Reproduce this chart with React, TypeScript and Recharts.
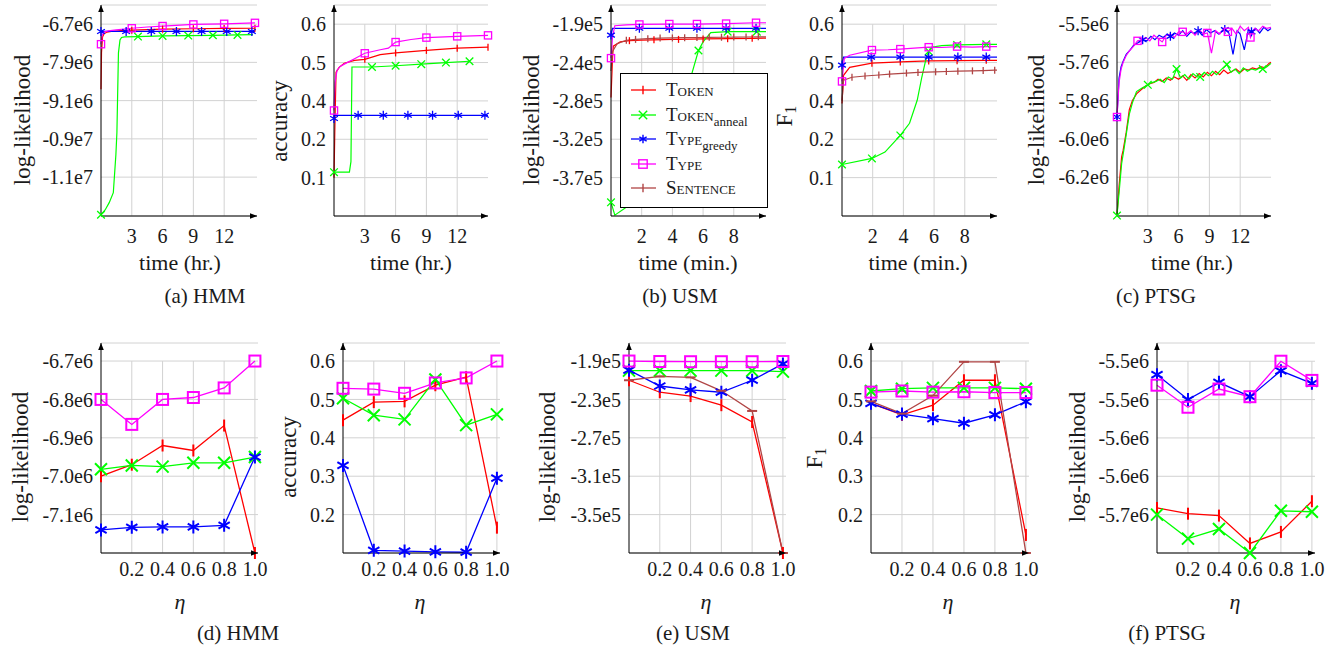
import React from "react";
import { LineChart, Line, XAxis, YAxis, CartesianGrid, ReferenceLine, ReferenceDot } from "recharts";

type Pt = [number, number];

const FONT = '"Liberation Serif", "Times New Roman", serif';
const INK = "#1a1a1a";
const GRID = "#d2d2d2";

// ---- top row: (a) HMM, log-likelihood (x1e6) vs hours
const hmmLlToken: Pt[] = [[0, -8.74], [0.05, -7.6], [0.15, -7.1], [0.3, -7.0], [0.6, -6.95], [1, -6.93], [2, -6.9], [3, -6.89], [4.5, -6.87], [6, -6.86], [9, -6.845], [12, -6.835], [15, -6.83]];
const hmmLlTokenMarks = [3, 6, 9, 12, 15];
const hmmLlAnneal: Pt[] = [[0, -12.68], [0.4, -12.53], [0.8, -12.3], [1.2, -11.99], [1.45, -10.8], [1.55, -10.1], [1.7, -7.6], [1.85, -7.2], [2.0, -7.12], [2.3, -7.1], [3.6, -7.09], [6, -7.07], [8.5, -7.06], [10.9, -7.05], [13.3, -7.04], [14.8, -7.03]];
const hmmLlAnnealMarks = [0, 3.6, 6, 8.5, 10.9, 13.3];
const hmmLlGreedy: Pt[] = [[0, -6.93], [2.45, -6.93], [4.9, -6.93], [7.35, -6.93], [9.8, -6.93], [12.25, -6.93], [14.7, -6.93], [15, -6.93]];
const hmmLlGreedyMarks = [0, 2.45, 4.9, 7.35, 9.8, 12.25, 14.7];
const hmmLlType: Pt[] = [[0, -7.33], [0.1, -7.05], [0.3, -6.95], [0.7, -6.91], [1.5, -6.88], [3, -6.83], [4.5, -6.79], [6, -6.76], [9, -6.71], [12, -6.69], [15, -6.66]];
const hmmLlTypeMarks = [0, 3, 6, 9, 12, 15];

// (a) HMM accuracy vs hours
const hmmAccToken: Pt[] = [[0, 0.12], [0.1, 0.3], [0.2, 0.45], [0.5, 0.465], [1, 0.478], [2, 0.487], [3, 0.49], [4.5, 0.505], [6, 0.51], [9, 0.518], [12, 0.525], [15, 0.528]];
const hmmAccTokenMarks = [3, 6, 9, 12, 15];
const hmmAccAnneal: Pt[] = [[0, 0.137], [1.5, 0.137], [1.65, 0.17], [1.75, 0.466], [3.7, 0.466], [6, 0.47], [8.5, 0.475], [10.9, 0.48], [13.2, 0.484]];
const hmmAccAnnealMarks = [0, 3.7, 6, 8.5, 10.9, 13.2];
const hmmAccGreedy: Pt[] = [[0, 0.305], [0.05, 0.315], [2.35, 0.315], [4.8, 0.315], [7.2, 0.315], [9.6, 0.315], [12.1, 0.315], [14.7, 0.315], [15, 0.315]];
const hmmAccGreedyMarks = [0, 2.35, 4.8, 7.2, 9.6, 12.1, 14.7];
const hmmAccType: Pt[] = [[0, 0.33], [0.1, 0.418], [0.3, 0.456], [0.6, 0.468], [1, 0.475], [2, 0.492], [3, 0.509], [4.5, 0.52], [5.3, 0.525], [6, 0.544], [7.5, 0.552], [9, 0.558], [12, 0.562], [15, 0.565]];
const hmmAccTypeMarks = [0, 3, 6, 9, 12, 15];

// (b) USM log-likelihood (x1e5) vs minutes
const usmLlToken: Pt[] = [[0, -2.76], [0.1, -2.3], [0.15, -2.16], [0.6, -2.11], [1.2, -2.095], [2, -2.088], [2.8, -2.085], [4, -2.08], [4.4, -2.08], [6, -2.075], [7.6, -2.072], [9.2, -2.068], [10.1, -2.065]];
const usmLlTokenMarks = [1.2, 2.8, 4.4, 6, 7.6, 9.2];
const usmLlAnneal: Pt[] = [[0, -3.99], [0.25, -4.14], [0.9, -4.06], [1.9, -3.92], [3, -3.65], [3.8, -3.33], [4.6, -2.9], [5.0, -2.65], [5.3, -2.46], [5.7, -2.21], [6.0, -2.11], [6.5, -2.0], [7.6, -1.99], [9.5, -1.99], [10.1, -1.99]];
const usmLlAnnealMarks = [0, 1.9, 3.8, 5.7, 7.6, 9.5];
const usmLlGreedy: Pt[] = [[0, -2.03], [0.1, -1.95], [1.85, -1.95], [3.8, -1.95], [5.6, -1.95], [7.5, -1.95], [9.45, -1.95], [10.1, -1.95]];
const usmLlGreedyMarks = [0, 1.85, 3.8, 5.6, 7.5, 9.45];
const usmLlType: Pt[] = [[0, -2.3], [0.1, -2.05], [0.25, -1.92], [1, -1.91], [1.85, -1.905], [3.8, -1.9], [5.6, -1.9], [7.5, -1.895], [9.45, -1.885], [10.1, -1.885]];
const usmLlTypeMarks = [0, 1.85, 3.8, 5.6, 7.5, 9.45];
const usmLlSentence: Pt[] = [[0, -2.45], [0.1, -2.22], [0.4, -2.13], [1, -2.09], [1.6, -2.08], [2.4, -2.072], [3.2, -2.065], [4, -2.063], [4.8, -2.06], [5.6, -2.058], [6.4, -2.056], [7.2, -2.055], [8, -2.053], [8.8, -2.052], [9.6, -2.05], [10.1, -2.05]];
const usmLlSentenceMarks = [1, 1.6, 2.4, 3.2, 4, 4.8, 5.6, 6.4, 7.2, 8, 8.8, 9.6];

// (b) USM F1 vs minutes
const usmF1Token: Pt[] = [[0, 0.352], [0.1, 0.44], [0.5, 0.465], [1.95, 0.478], [3.8, 0.482], [5.65, 0.485], [7.5, 0.486], [9.4, 0.487], [10.1, 0.487]];
const usmF1TokenMarks = [1.95, 3.8, 5.65, 7.5, 9.4];
const usmF1Anneal: Pt[] = [[0, 0.161], [1.95, 0.18], [2.8, 0.2], [3.8, 0.252], [4.4, 0.29], [4.9, 0.362], [5.2, 0.434], [5.5, 0.497], [5.65, 0.515], [5.8, 0.528], [6.5, 0.533], [7.5, 0.535], [9.4, 0.537], [10.1, 0.537]];
const usmF1AnnealMarks = [0, 1.95, 3.8, 5.65, 7.5, 9.4];
const usmF1Greedy: Pt[] = [[0, 0.472], [0.1, 0.497], [1.9, 0.497], [3.8, 0.497], [5.65, 0.497], [7.55, 0.497], [9.4, 0.497], [10.1, 0.497]];
const usmF1GreedyMarks = [0, 1.9, 3.8, 5.65, 7.55, 9.4];
const usmF1Type: Pt[] = [[0, 0.421], [0.15, 0.493], [0.5, 0.503], [1.95, 0.519], [3, 0.52], [3.8, 0.522], [4.7, 0.525], [5.65, 0.528], [6.5, 0.527], [7.5, 0.53], [8.5, 0.528], [9.4, 0.53], [10.1, 0.53]];
const usmF1TypeMarks = [0, 1.95, 3.8, 5.65, 7.5, 9.4];
const usmF1Sentence: Pt[] = [[0, 0.36], [0.1, 0.425], [0.65, 0.434], [1.5, 0.438], [2.4, 0.441], [3.1, 0.444], [4.2, 0.447], [4.95, 0.449], [6.1, 0.451], [6.8, 0.452], [7.55, 0.453], [8.5, 0.454], [9.2, 0.455], [9.95, 0.456], [10.1, 0.456]];
const usmF1SentenceMarks = [0.65, 1.5, 2.4, 3.1, 4.2, 4.95, 6.1, 6.8, 7.55, 8.5, 9.2, 9.95];

// (c) PTSG log-likelihood (x1e6) vs hours
const ptsgLlToken: Pt[] = [[0, -6.35], [0.2, -6.22], [0.45, -6.09], [0.6, -6.06], [0.9, -5.98], [1.2, -5.88], [1.5, -5.84], [1.9, -5.81], [2.4, -5.79], [2.8, -5.775], [3.2, -5.765], [3.6, -5.76], [4.0, -5.745], [4.4, -5.755], [4.8, -5.74], [5.2, -5.75], [5.6, -5.735], [6.0, -5.745], [6.4, -5.73], [6.8, -5.75], [7.2, -5.725], [7.6, -5.74], [8.0, -5.72], [8.4, -5.735], [8.8, -5.715], [9.2, -5.73], [9.6, -5.71], [10.0, -5.725], [10.4, -5.705], [10.8, -5.72], [11.2, -5.71], [11.6, -5.7], [12.0, -5.715], [12.4, -5.7], [12.8, -5.705], [13.2, -5.695], [13.6, -5.7], [14.0, -5.69], [14.4, -5.695], [14.8, -5.675], [15.0, -5.67]];
const ptsgLlTokenMarks: number[] = [];
const ptsgLlAnneal: Pt[] = [[0, -6.35], [0.2, -6.25], [0.45, -6.12], [0.7, -6.05], [0.9, -5.99], [1.2, -5.9], [1.5, -5.85], [1.9, -5.8], [2.4, -5.785], [3.0, -5.77], [3.4, -5.76], [3.8, -5.755], [4.2, -5.745], [4.6, -5.76], [5.0, -5.735], [5.4, -5.745], [5.8, -5.7], [6.2, -5.74], [6.6, -5.725], [7.0, -5.745], [7.4, -5.72], [7.8, -5.735], [8.1, -5.735], [8.5, -5.715], [8.9, -5.73], [9.3, -5.71], [9.7, -5.725], [10.1, -5.705], [10.7, -5.68], [11.1, -5.715], [11.5, -5.7], [11.9, -5.72], [12.3, -5.695], [12.7, -5.71], [13.1, -5.7], [13.5, -5.705], [13.9, -5.695], [14.2, -5.7], [14.6, -5.69], [15.0, -5.675]];
const ptsgLlAnnealMarks = [0, 3.0, 5.8, 8.1, 10.7, 14.2];
const ptsgLlGreedy: Pt[] = [[0, -5.913], [0.2, -5.74], [0.4, -5.69], [0.6, -5.665], [0.9, -5.635], [1.2, -5.62], [1.6, -5.595], [2.0, -5.585], [2.5, -5.57], [2.9, -5.575], [3.3, -5.555], [3.7, -5.57], [4.1, -5.55], [4.5, -5.56], [4.9, -5.545], [5.2, -5.555], [5.6, -5.54], [6.0, -5.55], [6.4, -5.53], [6.8, -5.555], [7.2, -5.535], [7.6, -5.545], [7.9, -5.53], [8.3, -5.55], [8.7, -5.525], [9.1, -5.54], [9.5, -5.53], [9.9, -5.545], [10.5, -5.525], [10.9, -5.54], [11.3, -5.635], [11.7, -5.53], [12.0, -5.545], [12.4, -5.615], [12.8, -5.525], [13.1, -5.535], [13.5, -5.52], [13.9, -5.54], [14.3, -5.515], [14.7, -5.53], [15.0, -5.52]];
const ptsgLlGreedyMarks = [0, 2.5, 5.2, 7.9, 10.5, 13.1];
const ptsgLlType: Pt[] = [[0, -5.913], [0.2, -5.76], [0.4, -5.7], [0.6, -5.67], [0.9, -5.64], [1.2, -5.62], [1.6, -5.6], [2.0, -5.575], [2.4, -5.57], [2.8, -5.56], [3.2, -5.575], [3.6, -5.55], [4.0, -5.565], [4.4, -5.58], [4.8, -5.55], [5.2, -5.545], [5.6, -5.56], [6.0, -5.535], [6.4, -5.535], [6.8, -5.545], [7.2, -5.53], [7.6, -5.55], [8.0, -5.525], [8.4, -5.545], [8.8, -5.54], [9.2, -5.63], [9.6, -5.53], [10.0, -5.545], [10.4, -5.52], [10.8, -5.535], [11.2, -5.52], [11.6, -5.545], [12.0, -5.51], [12.4, -5.53], [12.8, -5.515], [13.0, -5.56], [13.4, -5.52], [13.8, -5.53], [14.2, -5.51], [14.6, -5.52], [15.0, -5.515]];
const ptsgLlTypeMarks = [0, 2.0, 4.4, 6.4, 8.8, 10.8, 13.0];

// ---- bottom row: values at each eta
const ETA = [0, 0.2, 0.4, 0.6, 0.8, 1.0];
const dLlToken = [-7.0, -6.97, -6.92, -6.933, -6.868, -7.2];
const dLlAnneal = [-6.982, -6.972, -6.975, -6.965, -6.965, -6.95];
const dLlGreedy = [-7.14, -7.133, -7.132, -7.132, -7.128, -6.95];
const dLlType = [-6.8, -6.865, -6.8, -6.795, -6.77, -6.7];

const dAccToken = [0.446, 0.493, 0.495, 0.537, 0.558, 0.166];
const dAccAnneal = [0.503, 0.459, 0.448, 0.552, 0.433, 0.461];
const dAccGreedy = [0.328, 0.107, 0.105, 0.103, 0.102, 0.295];
const dAccType = [0.529, 0.527, 0.516, 0.543, 0.556, 0.6];

const eLlToken = [-2.1, -2.225, -2.265, -2.36, -2.535, -3.9];
const eLlAnneal = [-2.0, -2.0, -2.0, -2.0, -2.0, -2.01];
const eLlGreedy = [-1.995, -2.16, -2.2, -2.225, -2.1, -1.93];
const eLlType = [-1.9, -1.905, -1.907, -1.907, -1.907, -1.905];
const eLlSentence = [-2.1, -2.06, -2.07, -2.21, -2.42, -3.9];

const eF1Token = [0.49, 0.46, 0.485, 0.55, 0.55, 0.147];
const eF1Anneal = [0.522, 0.528, 0.53, 0.53, 0.53, 0.528];
const eF1Greedy = [0.49, 0.462, 0.45, 0.438, 0.46, 0.494];
const eF1Type = [0.519, 0.522, 0.519, 0.52, 0.518, 0.518];
const eF1Sentence = [0.495, 0.463, 0.51, 0.598, 0.598, 0.1];

const fLlToken = [-5.653, -5.659, -5.661, -5.69, -5.678, -5.646];
const fLlAnneal = [-5.66, -5.685, -5.675, -5.7, -5.656, -5.657];
const fLlGreedy = [-5.514, -5.54, -5.522, -5.537, -5.51, -5.523];
const fLlType = [-5.525, -5.548, -5.529, -5.537, -5.5, -5.52];

// tick labels as printed
const hmmLlTicks = [-11.5, -10.3, -9.1, -7.9, -6.7];
const hmmLlLabels = ["-1.1e7", "-0.9e7", "-9.1e6", "-7.9e6", "-6.7e6"];
const accTopTicks = [0.12, 0.24, 0.36, 0.48, 0.6];
const accTopLabels = ["0.1", "0.2", "0.4", "0.5", "0.6"];
const usmLlTicks = [-3.7, -3.25, -2.8, -2.35, -1.9];
const usmLlLabels = ["-3.7e5", "-3.2e5", "-2.8e5", "-2.4e5", "-1.9e5"];
const ptsgLlTicks = [-6.18, -6.01, -5.84, -5.67, -5.5];
const ptsgLlLabels = ["-6.2e6", "-6.0e6", "-5.8e6", "-5.7e6", "-5.5e6"];
const dLlTicks = [-7.1, -7.0, -6.9, -6.8, -6.7];
const dLlLabels = ["-7.1e6", "-7.0e6", "-6.9e6", "-6.8e6", "-6.7e6"];
const accBotTicks = [0.2, 0.3, 0.4, 0.5, 0.6];
const accBotLabels = ["0.2", "0.3", "0.4", "0.5", "0.6"];
const eLlTicks = [-3.5, -3.1, -2.7, -2.3, -1.9];
const eLlLabels = ["-3.5e5", "-3.1e5", "-2.7e5", "-2.3e5", "-1.9e5"];
const fLlTicks = [-5.66, -5.62, -5.58, -5.54, -5.5];
const fLlLabels = ["-5.7e6", "-5.6e6", "-5.6e6", "-5.5e6", "-5.5e6"];
const hourTicks = [3, 6, 9, 12];
const minTicks = [2, 4, 6, 8];
const etaTicks = [0.2, 0.4, 0.6, 0.8, 1.0];

type MarkKind = "bar" | "hbar" | "x" | "star" | "square";
const STYLE: Record<string, { color: string; mark: MarkKind }> = {
  token: { color: "#ff0000", mark: "bar" },
  anneal: { color: "#00ff00", mark: "x" },
  greedy: { color: "#0000ff", mark: "star" },
  type: { color: "#ff00ff", mark: "square" },
  sentence: { color: "#b04545", mark: "bar" },
};

interface Series {
  key: string;
  pts: Pt[];
  marks?: number[];
  mark?: MarkKind;
}

function Mark({ kind, cx, cy, s, color, sw }: { kind: MarkKind; cx: number; cy: number; s: number; color: string; sw: number }) {
  const st = { stroke: color, strokeWidth: sw, fill: "none" };
  if (kind === "bar") return <line x1={cx} y1={cy - s} x2={cx} y2={cy + s} {...st} />;
  if (kind === "hbar") return <line x1={cx - s} y1={cy} x2={cx + s} y2={cy} {...st} />;
  if (kind === "x") return <path d={`M${cx - s},${cy - s}L${cx + s},${cy + s}M${cx - s},${cy + s}L${cx + s},${cy - s}`} {...st} />;
  if (kind === "star") {
    const a = s * Math.cos(Math.PI / 6);
    const b = s * 0.5;
    return <path d={`M${cx},${cy - s}L${cx},${cy + s}M${cx - a},${cy - b}L${cx + a},${cy + b}M${cx - a},${cy + b}L${cx + a},${cy - b}`} {...st} />;
  }
  return <rect x={cx - s} y={cy - s} width={2 * s} height={2 * s} {...st} />;
}

const etaPts = (vals: number[]): Pt[] => ETA.map((e, i) => [e, vals[i]]);

interface PanelProps {
  x0: number;
  x1: number;
  yTop: number;
  yBot: number;
  tm: number;
  xDomain: [number, number];
  xTicks: number[];
  yDomain: [number, number];
  yTicks: number[];
  yLabels: string[];
  series: Series[];
  big?: boolean;
}

function Panel(p: PanelProps) {
  const YW = 100;
  const MT = 10;
  const MR = 14;
  const XH = 40;
  const width = YW + (p.x1 - p.x0) + MR;
  const height = MT + (p.yBot - p.yTop) + XH;
  const topTick = Math.max(...p.yTicks);
  const ms = p.big ? { bar: 6, hbar: 5, x: 6, star: 6.5, square: 5.5 } : { bar: 3.5, hbar: 3.5, x: 3.8, star: 4.5, square: 3.6 };
  const msw = p.big ? 2 : 1.3;
  const tick = { fontSize: 20, fill: INK, fontFamily: FONT };

  return (
    <div style={{ position: "absolute", left: p.x0 - YW, top: p.yTop - MT }}>
      <LineChart width={width} height={height} margin={{ top: MT, right: MR, bottom: 0, left: 0 }}>
        <CartesianGrid vertical={false} stroke={GRID} strokeWidth={1} />
        {p.xTicks.map((t) => (
          <ReferenceLine
            key={t}
            segment={[{ x: t, y: p.yDomain[0] }, { x: t, y: topTick }]}
            stroke={GRID}
            strokeWidth={1}
          />
        ))}
        <XAxis
          type="number"
          dataKey="x"
          domain={p.xDomain}
          ticks={p.xTicks}
          interval={0}
          tickLine={false}
          tickMargin={p.tm}
          height={XH}
          axisLine={{ stroke: "#000", strokeWidth: 1 }}
          tick={tick}
          tickFormatter={(v: number) => (p.big ? v.toFixed(1) : String(v))}
        />
        <YAxis
          type="number"
          domain={p.yDomain}
          ticks={p.yTicks}
          interval={0}
          width={YW}
          tickLine={false}
          axisLine={{ stroke: "#000", strokeWidth: 1 }}
          tick={tick}
          tickFormatter={(v: number) => p.yLabels[p.yTicks.indexOf(v)] ?? ""}
        />
        {p.series.map((s) => {
          const st = STYLE[s.key];
          const kind = s.mark ?? st.mark;
          return (
            <Line
              key={s.key}
              data={s.pts.map(([x, y]) => ({ x, y }))}
              dataKey="y"
              type="linear"
              stroke={st.color}
              strokeWidth={p.big ? 1.3 : 1.2}
              isAnimationActive={false}
              activeDot={false}
              dot={(d: any) => {
                const show = !s.marks || s.marks.includes(d.payload.x);
                if (!show || d.cx == null) return <g key={d.index} />;
                return (
                  <g key={d.index}>
                    <Mark kind={kind} cx={d.cx} cy={d.cy} s={ms[kind]} color={st.color} sw={msw} />
                  </g>
                );
              }}
            />
          );
        })}
        <ReferenceDot
          x={p.xDomain[0]}
          y={p.yDomain[1]}
          r={1}
          shape={(d: any) => <path d={`M${d.cx - 2.8},${d.cy + 7}L${d.cx},${d.cy}L${d.cx + 2.8},${d.cy + 7}Z`} fill="#000" />}
        />
        <ReferenceDot
          x={p.xDomain[1]}
          y={p.yDomain[0]}
          r={1}
          shape={(d: any) => <path d={`M${d.cx - 7},${d.cy - 2.8}L${d.cx},${d.cy}L${d.cx - 7},${d.cy + 2.8}Z`} fill="#000" />}
        />
      </LineChart>
    </div>
  );
}

function Txt({ x, y, children, size = 20, rotate = false, italic = false }: { x: number; y: number; children: React.ReactNode; size?: number; rotate?: boolean; italic?: boolean }) {
  return (
    <div
      style={{
        position: "absolute",
        left: x,
        top: y,
        transform: `translate(-50%, -50%)${rotate ? " rotate(-90deg)" : ""}`,
        whiteSpace: "nowrap",
        fontFamily: FONT,
        fontSize: size,
        fontStyle: italic ? "italic" : "normal",
        color: INK,
        lineHeight: 1,
      }}
    >
      {children}
    </div>
  );
}

const F1 = (
  <span>
    F<sub style={{ fontSize: "0.7em", verticalAlign: "-0.3em" }}>1</sub>
  </span>
);

const LEGEND: { key: string; main: string; sub?: string }[] = [
  { key: "token", main: "Token" },
  { key: "anneal", main: "Token", sub: "anneal" },
  { key: "greedy", main: "Type", sub: "greedy" },
  { key: "type", main: "Type" },
  { key: "sentence", main: "Sentence" },
];

function LegendBox() {
  return (
    <div
      style={{
        position: "absolute",
        left: 620,
        top: 73,
        width: 146,
        height: 133,
        border: "1px solid #000",
        background: "#fff",
        fontFamily: FONT,
      }}
    >
      {LEGEND.map((l, i) => {
        const st = STYLE[l.key];
        return (
          <div key={l.key} style={{ position: "absolute", left: 0, top: 4 + i * 24.6, height: 24, width: 146 }}>
            <svg width={40} height={24} style={{ position: "absolute", left: 0, top: 0 }}>
              <line x1={10} y1={12} x2={35} y2={12} stroke={st.color} strokeWidth={1.3} />
              <Mark kind={st.mark} cx={22} cy={12} s={4.2} color={st.color} sw={1.4} />
            </svg>
            <span
              style={{
                position: "absolute",
                left: 45,
                top: 1,
                fontSize: 19,
                fontVariant: "small-caps",
                color: INK,
                whiteSpace: "nowrap",
              }}
            >
              {l.main}
              {l.sub && <sub style={{ fontSize: 13, fontVariant: "normal" }}>{l.sub}</sub>}
            </span>
          </div>
        );
      })}
    </div>
  );
}

const TOP = { yTop: 5, yBot: 216, tm: 7 };
const BOT = { yTop: 343, yBot: 553, tm: 3, big: true };

export default function App() {
  return (
    <div style={{ position: "absolute", left: 0, top: 0, width: 1340, height: 646, background: "#fff", overflow: "hidden" }}>
      <Panel {...TOP} x0={101} x1={257} xDomain={[0, 15.2]} xTicks={hourTicks} yDomain={[-12.72, -6.1]} yTicks={hmmLlTicks} yLabels={hmmLlLabels}
        series={[
          { key: "token", pts: hmmLlToken, marks: hmmLlTokenMarks },
          { key: "anneal", pts: hmmLlAnneal, marks: hmmLlAnnealMarks },
          { key: "greedy", pts: hmmLlGreedy, marks: hmmLlGreedyMarks },
          { key: "type", pts: hmmLlType, marks: hmmLlTypeMarks },
        ]} />
      <Panel {...TOP} x0={334} x1={488} xDomain={[0, 15]} xTicks={hourTicks} yDomain={[0, 0.66]} yTicks={accTopTicks} yLabels={accTopLabels}
        series={[
          { key: "token", pts: hmmAccToken, marks: hmmAccTokenMarks },
          { key: "anneal", pts: hmmAccAnneal, marks: hmmAccAnnealMarks },
          { key: "greedy", pts: hmmAccGreedy, marks: hmmAccGreedyMarks },
          { key: "type", pts: hmmAccType, marks: hmmAccTypeMarks },
        ]} />
      <Panel {...TOP} x0={611} x1={766} xDomain={[0, 10.1]} xTicks={minTicks} yDomain={[-4.15, -1.677]} yTicks={usmLlTicks} yLabels={usmLlLabels}
        series={[
          { key: "token", pts: usmLlToken, marks: usmLlTokenMarks },
          { key: "anneal", pts: usmLlAnneal, marks: usmLlAnnealMarks },
          { key: "greedy", pts: usmLlGreedy, marks: usmLlGreedyMarks },
          { key: "type", pts: usmLlType, marks: usmLlTypeMarks },
          { key: "sentence", pts: usmLlSentence, marks: usmLlSentenceMarks },
        ]} />
      <Panel {...TOP} x0={842} x1={997} xDomain={[0, 10.1]} xTicks={minTicks} yDomain={[0, 0.66]} yTicks={accTopTicks} yLabels={accTopLabels}
        series={[
          { key: "token", pts: usmF1Token, marks: usmF1TokenMarks },
          { key: "anneal", pts: usmF1Anneal, marks: usmF1AnnealMarks },
          { key: "greedy", pts: usmF1Greedy, marks: usmF1GreedyMarks },
          { key: "type", pts: usmF1Type, marks: usmF1TypeMarks },
          { key: "sentence", pts: usmF1Sentence, marks: usmF1SentenceMarks },
        ]} />
      <Panel {...TOP} x0={1117} x1={1271} xDomain={[0, 15]} xTicks={hourTicks} yDomain={[-6.352, -5.416]} yTicks={ptsgLlTicks} yLabels={ptsgLlLabels}
        series={[
          { key: "token", pts: ptsgLlToken, marks: ptsgLlTokenMarks },
          { key: "anneal", pts: ptsgLlAnneal, marks: ptsgLlAnnealMarks },
          { key: "greedy", pts: ptsgLlGreedy, marks: ptsgLlGreedyMarks },
          { key: "type", pts: ptsgLlType, marks: ptsgLlTypeMarks },
        ]} />

      <Panel {...BOT} x0={101} x1={258} xDomain={[0, 1.02]} xTicks={etaTicks} yDomain={[-7.2, -6.653]} yTicks={dLlTicks} yLabels={dLlLabels}
        series={[
          { key: "token", pts: etaPts(dLlToken) },
          { key: "anneal", pts: etaPts(dLlAnneal) },
          { key: "greedy", pts: etaPts(dLlGreedy) },
          { key: "type", pts: etaPts(dLlType) },
        ]} />
      <Panel {...BOT} x0={343} x1={500} xDomain={[0, 1.02]} xTicks={etaTicks} yDomain={[0.1, 0.647]} yTicks={accBotTicks} yLabels={accBotLabels}
        series={[
          { key: "token", pts: etaPts(dAccToken) },
          { key: "anneal", pts: etaPts(dAccAnneal) },
          { key: "greedy", pts: etaPts(dAccGreedy) },
          { key: "type", pts: etaPts(dAccType) },
        ]} />
      <Panel {...BOT} x0={629} x1={786} xDomain={[0, 1.02]} xTicks={etaTicks} yDomain={[-3.9, -1.712]} yTicks={eLlTicks} yLabels={eLlLabels}
        series={[
          { key: "token", pts: etaPts(eLlToken) },
          { key: "anneal", pts: etaPts(eLlAnneal) },
          { key: "greedy", pts: etaPts(eLlGreedy) },
          { key: "type", pts: etaPts(eLlType) },
          { key: "sentence", pts: etaPts(eLlSentence), mark: "hbar" },
        ]} />
      <Panel {...BOT} x0={871} x1={1029} xDomain={[0, 1.02]} xTicks={etaTicks} yDomain={[0.1, 0.647]} yTicks={accBotTicks} yLabels={accBotLabels}
        series={[
          { key: "token", pts: etaPts(eF1Token) },
          { key: "anneal", pts: etaPts(eF1Anneal) },
          { key: "greedy", pts: etaPts(eF1Greedy) },
          { key: "type", pts: etaPts(eF1Type) },
          { key: "sentence", pts: etaPts(eF1Sentence), mark: "hbar" },
        ]} />
      <Panel {...BOT} x0={1157} x1={1315} xDomain={[0, 1.02]} xTicks={etaTicks} yDomain={[-5.7, -5.481]} yTicks={fLlTicks} yLabels={fLlLabels}
        series={[
          { key: "token", pts: etaPts(fLlToken) },
          { key: "anneal", pts: etaPts(fLlAnneal) },
          { key: "greedy", pts: etaPts(fLlGreedy) },
          { key: "type", pts: etaPts(fLlType) },
        ]} />

      {/* axis titles, top row */}
      <Txt x={22} y={120} size={23} rotate>log-likelihood</Txt>
      <Txt x={279} y={121} size={23} rotate>accuracy</Txt>
      <Txt x={531} y={120} size={23} rotate>log-likelihood</Txt>
      <Txt x={786} y={116} size={23} rotate>{F1}</Txt>
      <Txt x={1036} y={120} size={23} rotate>log-likelihood</Txt>
      <Txt x={180} y={263} size={22}>time (hr.)</Txt>
      <Txt x={411} y={263} size={22}>time (hr.)</Txt>
      <Txt x={688} y={263} size={22}>time (min.)</Txt>
      <Txt x={918} y={263} size={22}>time (min.)</Txt>
      <Txt x={1192} y={263} size={22}>time (hr.)</Txt>
      <Txt x={205} y={296} size={21}>(a) HMM</Txt>
      <Txt x={680} y={296} size={21}>(b) USM</Txt>
      <Txt x={1156} y={296} size={21}>(c) PTSG</Txt>

      {/* axis titles, bottom row */}
      <Txt x={20} y={457} size={23} rotate>log-likelihood</Txt>
      <Txt x={288} y={457} size={23} rotate>accuracy</Txt>
      <Txt x={547} y={457} size={23} rotate>log-likelihood</Txt>
      <Txt x={816} y={458} size={23} rotate>{F1}</Txt>
      <Txt x={1077} y={457} size={23} rotate>log-likelihood</Txt>
      <Txt x={180} y={602} size={22} italic>η</Txt>
      <Txt x={420} y={602} size={22} italic>η</Txt>
      <Txt x={706} y={602} size={22} italic>η</Txt>
      <Txt x={948} y={602} size={22} italic>η</Txt>
      <Txt x={1235} y={602} size={22} italic>η</Txt>
      <Txt x={238} y={633} size={21}>(d) HMM</Txt>
      <Txt x={693} y={633} size={21}>(e) USM</Txt>
      <Txt x={1167} y={633} size={21}>(f) PTSG</Txt>

      <LegendBox />
    </div>
  );
}
